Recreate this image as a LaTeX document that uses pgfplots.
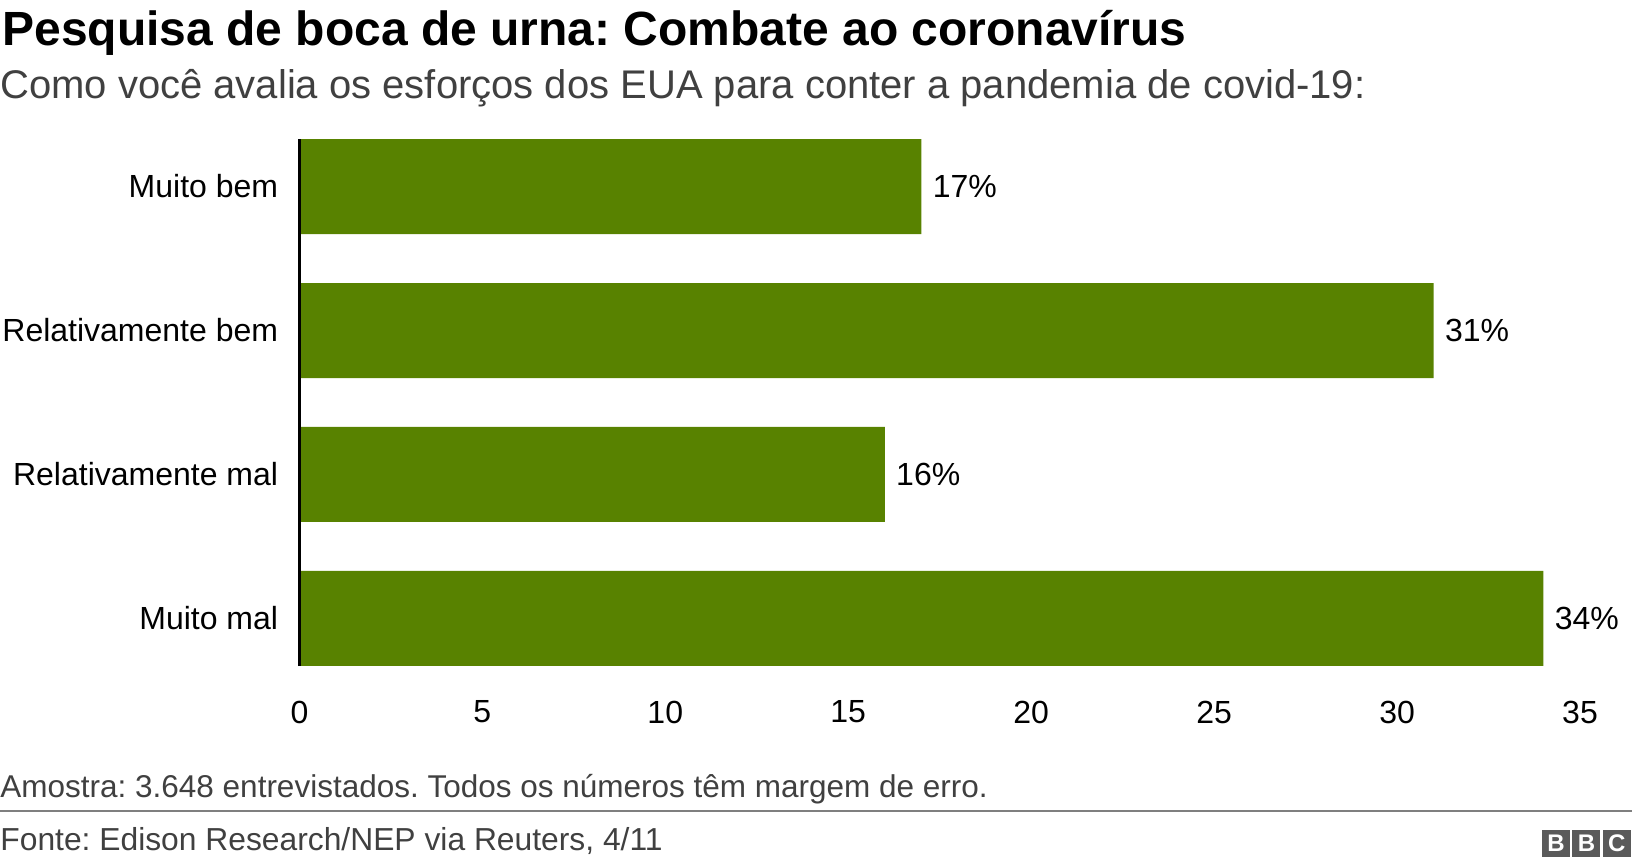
\documentclass[border=0pt]{standalone}
\usepackage{fontspec}
\setmainfont{Liberation Sans}
\usepackage{pgfplots}
\pgfplotsset{compat=1.18}
\frenchspacing
\definecolor{bargreen}{HTML}{588200}
\definecolor{subgrey}{HTML}{404040}
\definecolor{rulegrey}{HTML}{7F7F7F}
\definecolor{bbcgrey}{HTML}{5A5A5A}
\begin{document}
\frenchspacing
\begin{tikzpicture}
\begin{axis}[
  at={(149.7bp,100bp)}, anchor=south west,
  scale only axis, width=640.3bp, height=263.5bp,
  xbar, bar width=47.5bp,
  xmin=0, xmax=35, ymin=-0.33, ymax=3.33, y dir=reverse,
  ytick={0,1,2,3},
  yticklabels={Muito bem, Relativamente bem, Relativamente mal, Muito mal},
  xtick={0,5,...,35},
  axis line style={draw=none}, tick style={draw=none},
  /pgf/number format/assume math mode=true,
  ticklabel style={font=\fontsize{16bp}{19bp}\selectfont},
  yticklabel style={anchor=east, inner sep=0pt, xshift=-6.2bp},
  xticklabel style={anchor=center, inner sep=0pt, yshift=-23bp},
  nodes near coords={\pgfmathprintnumber{\pgfplotspointmeta}\%},
  every node near coord/.append style={anchor=west, inner sep=0pt, xshift=5.5bp, font=\fontsize{16bp}{19bp}\selectfont, text=black},
  clip=false,
]
\addplot[fill=bargreen, draw=none] coordinates {(17,0) (31,1) (16,2) (34,3)};
\draw[line width=1.5bp, black] (rel axis cs:0,0) -- (rel axis cs:0,1);
\end{axis}
\node[anchor=base west, inner sep=0pt, font=\bfseries\fontsize{24bp}{29bp}\selectfont] at (1bp,410bp) {Pesquisa de boca de urna: Combate ao coronavírus};
\node[anchor=base west, inner sep=0pt, text=subgrey, font=\fontsize{20bp}{24bp}\selectfont] at (0bp,383.5bp) {Como você avalia os esforços dos EUA para conter a pandemia de covid-19:};
\node[anchor=base west, inner sep=0pt, text=subgrey, font=\fontsize{15.75bp}{19bp}\selectfont] at (0bp,34.5bp) {Amostra: 3.648 entrevistados. Todos os números têm margem de erro.};
\draw[rulegrey, line width=1bp] (0bp,27.5bp) -- (816bp,27.5bp);
\node[anchor=base west, inner sep=0pt, text=subgrey, font=\fontsize{15.9bp}{19bp}\selectfont] at (0bp,8bp) {Fonte: Edison Research/NEP via Reuters, 4/11};
\foreach \i/\l in {0/B,1/B,2/C} {
  \fill[bbcgrey] (771bp+\i*15.2bp,4.5bp) rectangle ++(14bp,13.5bp);
  \node[text=white, inner sep=0pt, font=\bfseries\fontsize{12bp}{13bp}\selectfont] at (778bp+\i*15.2bp,11.25bp) {\l};
}
\pgfresetboundingbox
\path[use as bounding box] (0,0) rectangle (816bp,433bp);
\end{tikzpicture}
\end{document}
